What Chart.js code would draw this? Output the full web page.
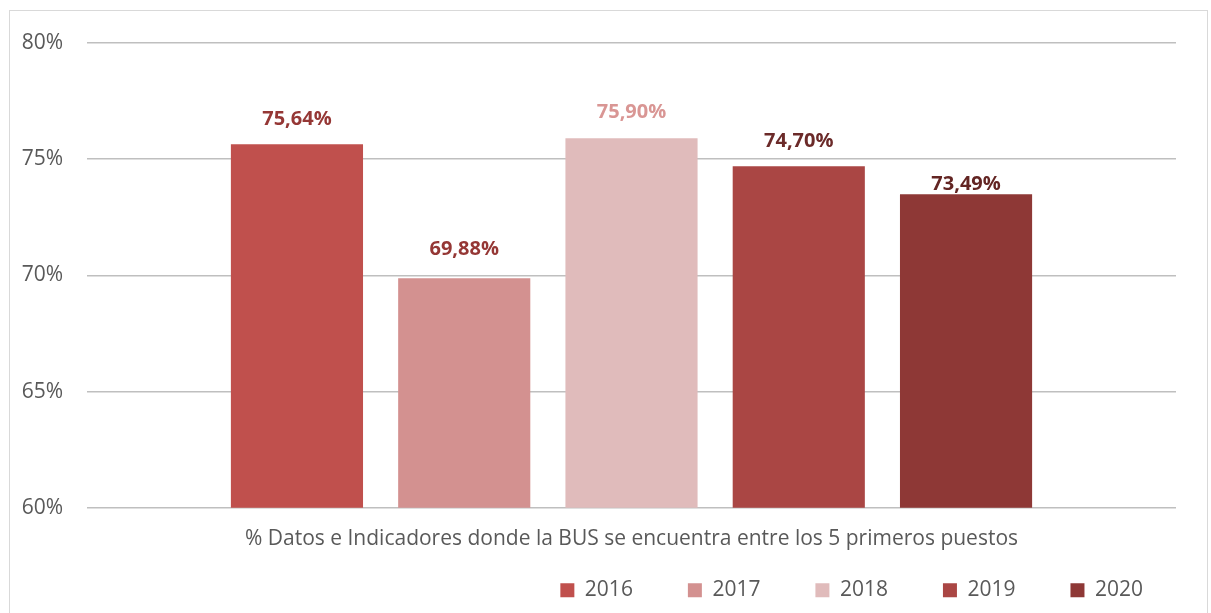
<!DOCTYPE html>
<html>
<head>
<meta charset="utf-8">
<script src="https://cdn.jsdelivr.net/npm/chart.js@4.4.1/dist/chart.umd.min.js"></script>
<style>
  body { margin: 0; background: #fff; }
  #box { position: absolute; left: 9px; top: 10px; width: 1197px; height: 620px; border: 1px solid #D9D9D9; }
  #wrap { position: absolute; left: 0; top: 0; width: 1197px; height: 603px; }
</style>
</head>
<body>
<div id="box"><div id="wrap"><canvas id="chart_1"></canvas></div></div>
<script>
const categories = ['% Datos e Indicadores donde la BUS se encuentra entre los 5 primeros puestos'];
const years = ['2016', '2017', '2018', '2019', '2020'];
const values = [75.64, 69.88, 75.90, 74.70, 73.49];
const yTicks = [60, 65, 70, 75, 80];

const barColors = ['#C0504D', '#D39190', '#E0BBBB', '#AA4644', '#8E3836'];
const labelColors = ['#953735', '#953735', '#D99694', '#6B2A29', '#632523'];
const labelLift = [25, 29, 26, 25, 10];

const font = "'Open Sans', sans-serif";

// value labels above each bar
const valueLabels = {
    id: 'valueLabels',
    afterDatasetsDraw(chart) {
        const ctx = chart.ctx;
        ctx.save();
        ctx.font = 'bold 20px ' + font;
        ctx.textAlign = 'center';
        ctx.textBaseline = 'middle';
        chart.data.datasets.forEach((ds, i) => {
            const bar = chart.getDatasetMeta(i).data[0];
            ctx.fillStyle = labelColors[i];
            const txt = ds.data[0].toFixed(2).replace('.', ',') + '%';
            ctx.fillText(txt, bar.x, bar.y - labelLift[i]);
        });
        ctx.restore();
    }
};

// move the legend box up under the axis title and a bit to the right, like the original
const legendShift = {
    id: 'legendShift',
    afterLayout(chart) {
        const lg = chart.legend;
        lg.left += 22; lg.right += 22;
        lg.top = chart.chartArea.bottom + 17;
        lg.bottom = chart.height;
        lg.height = lg.bottom - lg.top;
    }
};

const ctx1 = document.getElementById('chart_1').getContext('2d');
const myChart1 = new Chart(ctx1, {
    type: 'bar',
    data: {
        labels: categories,
        datasets: years.map((y, i) => ({
            label: y,
            data: [values[i]],
            backgroundColor: barColors[i],
            borderWidth: 0,
            categoryPercentage: 0.768,
            barPercentage: 0.79
        }))
    },
    options: {
        responsive: true,
        maintainAspectRatio: false,
        animation: false,
        layout: { padding: { left: 0, right: 31, top: 32, bottom: 0 } },
        plugins: {
            tooltip: { enabled: false },
            legend: {
                position: 'bottom',
                align: 'end',
                maxHeight: 51,
                labels: {
                    boxWidth: 14,
                    boxHeight: 14,
                    padding: 55,
                    color: '#595959',
                    font: { family: font, size: 21 }
                }
            }
        },
        scales: {
            x: {
                grid: { display: false },
                border: { display: false },
                ticks: { color: '#595959', padding: 11, font: { family: font, size: 21 } }
            },
            y: {
                min: yTicks[0],
                max: yTicks[yTicks.length - 1],
                afterBuildTicks(axis) { axis.ticks = yTicks.map(v => ({ value: v })); },
                afterFit(axis) { axis.width = 77; axis.paddingTop = 0; axis.paddingBottom = 0; },
                grid: { color: '#BFBFBF', lineWidth: 1.5, drawTicks: false },
                border: { display: false },
                ticks: {
                    color: '#595959',
                    padding: 24,
                    font: { family: font, size: 21 },
                    callback: v => v + '%'
                }
            }
        }
    },
    plugins: [valueLabels, legendShift]
});
</script>
</body>
</html>
